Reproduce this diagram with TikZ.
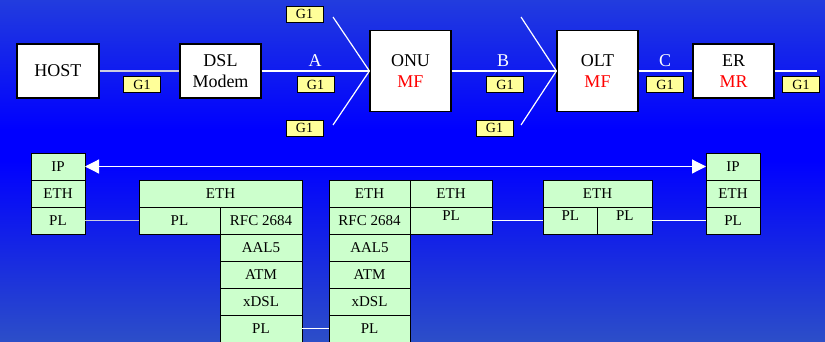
\documentclass[tikz,border=0pt]{standalone}
\usepackage{fontspec}
\setmainfont{Liberation Serif}
\usepackage{tikz}
\usetikzlibrary{arrows.meta, positioning}
\definecolor{bgtop}{RGB}{34, 60, 222}
\definecolor{bgmid}{RGB}{0, 0, 255}
\definecolor{bgbot}{RGB}{44, 78, 200}
\definecolor{stackgreen}{RGB}{204, 255, 204}
\definecolor{tagyellow}{RGB}{255, 255, 153}
\definecolor{mfred}{RGB}{255, 0, 0}
\definecolor{linkgray}{RGB}{205, 205, 225}

\begin{document}
\begin{tikzpicture}[
    x=1pt, y=-1pt,
    >={Triangle[length=14pt, width=14pt]},
    line width=1pt,
    devbox/.style={draw=black, fill=white, line width=1.2pt, inner sep=0pt, align=center, font=\fontsize{18}{21}\selectfont},
    tag/.style={draw=black, fill=tagyellow, line width=1pt, minimum width=37pt, minimum height=16pt, inner sep=0pt, font=\fontsize{14}{14}\selectfont},
    cell/.style={draw=black, fill=stackgreen, line width=1pt, minimum height=27pt, inner sep=0pt, outer sep=0pt, font=\fontsize{15}{15}\selectfont},
    highpl/.style={text depth=9pt},
    link/.style={white, line width=1.2pt},
    ifname/.style={white, font=\fontsize{18}{18}\selectfont},
]
    % --- background ---
    \useasboundingbox (0,0) rectangle (825,341);
    \shade[top color=bgtop, bottom color=bgmid] (0,0) rectangle (825,130);
    \fill[bgmid] (0,129.5) rectangle (825,160.5);
    \shade[top color=bgmid, bottom color=bgbot] (0,160) rectangle (825,341);

    % --- TOP: access chain ---
    \node[devbox, minimum width=82pt, minimum height=54pt] (host) at (58,71) {HOST};
    \node[devbox, minimum width=81pt, minimum height=54pt] (dsl) at (220.5,71) {DSL\\Modem};
    \node[devbox, minimum width=81pt, minimum height=81pt] (onu) at (410.5,71) {ONU\\\textcolor{mfred}{MF}};
    \node[devbox, minimum width=81pt, minimum height=81pt] (olt) at (597.5,71) {OLT\\\textcolor{mfred}{MF}};
    \node[devbox, minimum width=81pt, minimum height=54pt] (er) at (733.5,71) {ER\\\textcolor{mfred}{MR}};
    \coordinate (erout) at (817,71);
    \coordinate (onuup) at (333,17);
    \coordinate (onudn) at (333,125);
    \coordinate (oltup) at (521,17);
    \coordinate (oltdn) at (521,125);
    \draw[link, draw=linkgray] (host) -- (dsl);
    \draw[link] (dsl) -- (onu);
    \draw[link] (onu) -- (olt);
    \draw[link] (olt) -- (er);
    \draw[link] (er) -- (erout);
    \draw[link] (onuup) -- (onu.west) -- (onudn);
    \draw[link] (oltup) -- (olt.west) -- (oltdn);
    \node[ifname] (ifA) at (315,61) {A};
    \node[ifname] (ifB) at (503,61) {B};
    \node[ifname] (ifC) at (665,61) {C};
    \node[tag] (g1host) at (142,84.5) {G1};
    \node[tag] (g1up) at (304.5,14) {G1};
    \node[tag] (g1A) at (315.5,84.5) {G1};
    \node[tag] (g1dn) at (304.5,128) {G1};
    \node[tag] (g1B) at (505,84.5) {G1};
    \node[tag] (g1olt) at (494.5,128) {G1};
    \node[tag] (g1C) at (665,84.5) {G1};
    \node[tag] (g1out) at (801,84.5) {G1};

    % --- BOTTOM: protocol stacks ---
    \node[cell, minimum width=54pt] (ipL) at (58,166.5) {IP};
    \node[cell, minimum width=54pt, below=0pt of ipL] (ethL) {ETH};
    \node[cell, minimum width=54pt, below=0pt of ethL] (plL) {PL};

    \node[cell, minimum width=163pt] (ethM) at (220.5,193.5) {ETH};
    \node[cell, minimum width=81pt, below right=0pt of ethM.south west] (plM) {PL};
    \node[cell, minimum width=82pt, right=0pt of plM] (rfcM) {RFC 2684};
    \foreach \name/\txt [remember=\name as \prev (initially rfcM)] in {aalM/AAL5, atmM/ATM, xdslM/xDSL, phyM/PL}
        \node[cell, minimum width=82pt, below=0pt of \prev] (\name) {\txt};

    \node[cell, minimum width=81pt] (ethO) at (369.5,193.5) {ETH};
    \node[cell, minimum width=81pt, below=0pt of ethO] (rfcO) {RFC 2684};
    \foreach \name/\txt [remember=\name as \prev (initially rfcO)] in {aalO/AAL5, atmO/ATM, xdslO/xDSL, phyO/PL}
        \node[cell, minimum width=81pt, below=0pt of \prev] (\name) {\txt};

    \node[cell, minimum width=82pt, right=0pt of ethO] (ethN) {ETH};
    \node[cell, highpl, minimum width=82pt, below=0pt of ethN] (plN) {PL};

    \node[cell, minimum width=109pt] (ethT) at (597.5,193.5) {ETH};
    \node[cell, highpl, minimum width=54.5pt, below right=0pt of ethT.south west] (plTa) {PL};
    \node[cell, highpl, minimum width=54.5pt, right=0pt of plTa] (plTb) {PL};

    \node[cell, minimum width=54pt] (ipR) at (733,166.5) {IP};
    \node[cell, minimum width=54pt, below=0pt of ipR] (ethR) {ETH};
    \node[cell, minimum width=54pt, below=0pt of ethR] (plR) {PL};

    \draw[link, <->] (ipL) -- (ipR);
    \draw[link, draw=linkgray] (plL) -- (plM);
    \draw[link] (phyM) -- (phyO);
    \draw[link] (plN) -- (plTa);
    \draw[link] (plTb) -- (plR);
\end{tikzpicture}
\end{document}
